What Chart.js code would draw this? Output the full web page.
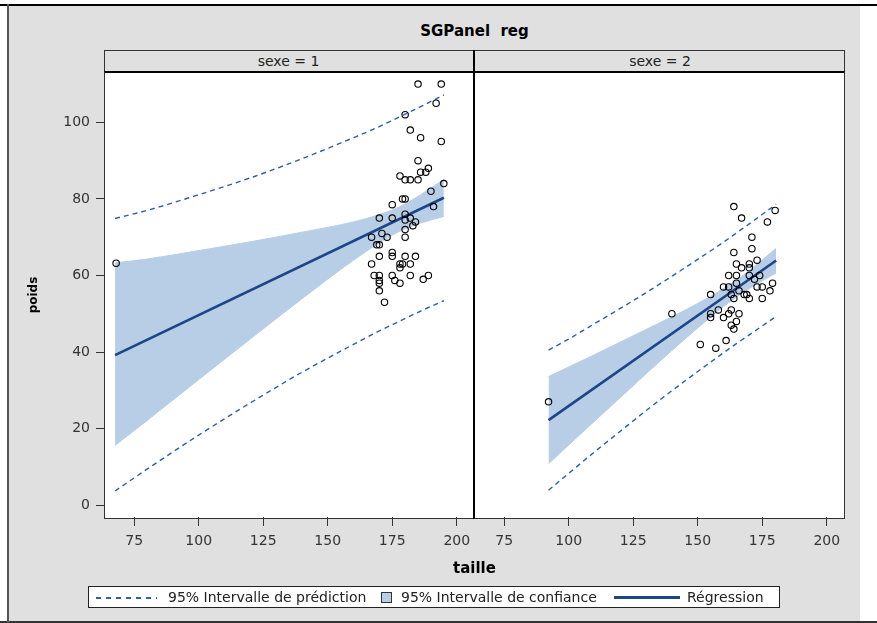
<!DOCTYPE html>
<html>
<head>
<meta charset="utf-8">
<title>SGPanel reg</title>
<script src="https://cdn.jsdelivr.net/npm/chart.js@4.4.1/dist/chart.umd.min.js"></script>
<style>
    body { margin: 0; width: 877px; height: 623px; background: #fff; position: relative; overflow: hidden; font-family: "DejaVu Sans", sans-serif; }
    .abs { position: absolute; }
    #lineTop { left: 0; top: 4px; width: 877px; height: 2px; background: #000; }
    #lineBottom { left: 0; top: 621px; width: 877px; height: 2px; background: #333; }
    #lineLeft { left: 7px; top: 4px; width: 2px; height: 619px; background: #555; }
    #bg { left: 9px; top: 6px; width: 851px; height: 615px; background: #e0e0e0; }
    #title { left: 104px; width: 741px; top: 22px; text-align: center; font-weight: bold; font-size: 15px; white-space: pre; color: #000; }
    .strip { top: 50px; height: 21px; border-top: 1px solid #333; background: #e0e0e0; font-size: 14px; line-height: 21px; text-align: center; color: #222; }
    #plotBg { left: 105px; top: 73px; width: 739px; height: 445px; background: #fff; }
    #plotFrame { left: 104px; top: 71px; width: 741px; height: 448px; box-sizing: border-box; border: 1px solid #333; border-top: 2px solid #000; }
    #stripFrame { left: 104px; top: 50px; width: 741px; height: 23px; box-sizing: border-box; border-left: 1px solid #333; border-right: 1px solid #333; }
    #divider { left: 473px; top: 50px; width: 2px; height: 469px; background: #000; }
    #xTitle { left: 104px; width: 741px; top: 559px; text-align: center; font-weight: bold; font-size: 15px; color: #000; }
    #legend { left: 88px; top: 586px; width: 692px; height: 22px; box-sizing: border-box; border: 1px solid #222; background: #fff; font-size: 14px; color: #222; }
    #legend span { position: absolute; top: 1px; line-height: 18px; white-space: nowrap; }
    .dash { position: absolute; top: 10px; height: 1.5px; background: repeating-linear-gradient(to right, #2d5ea8 0 5px, transparent 5px 10px); }
    .swatch { position: absolute; top: 5px; width: 9px; height: 9px; border: 1px solid #333; background: #b8cde6; }
    .solid { position: absolute; top: 9px; height: 3px; background: #1c4688; }
    canvas { position: absolute; }
</style>
</head>
<body>
<div class="abs" id="bg"></div>
<div class="abs" id="lineTop"></div>
<div class="abs" id="lineBottom"></div>
<div class="abs" id="lineLeft"></div>
<div class="abs" id="title">SGPanel  reg</div>
<div class="abs strip" id="strip1" style="left:104px;width:369px;"></div>
<div class="abs strip" id="strip2" style="left:475px;width:370px;"></div>
<div class="abs" id="plotBg"></div>
<canvas id="panel1" width="465" height="487" style="left:8px;top:73px;"></canvas>
<canvas id="panel2" width="368" height="487" style="left:475px;top:73px;"></canvas>
<div class="abs" id="stripFrame"></div>
<div class="abs" id="plotFrame"></div>
<div class="abs" id="divider"></div>
<div class="abs" id="xTitle">taille</div>
<div class="abs" id="legend">
    <div class="dash" style="left:7px;width:61px;"></div>
    <span style="left:79px;">95% Intervalle de prédiction</span>
    <div class="swatch" style="left:292px;"></div>
    <span style="left:312px;">95% Intervalle de confiance</span>
    <div class="solid" style="left:525px;width:66px;"></div>
    <span style="left:598px;">Régression</span>
</div>

<script>
// Axis settings
const xTicks = [75, 100, 125, 150, 175, 200];
const yTicks = [0, 20, 40, 60, 80, 100];
const xMin = 63.7, xMax = 206.3;
const yMin = -3.1, yMax = 112.9;
const panelLabels = ['sexe = 1', 'sexe = 2'];

// sexe = 1 : observations
const taille1 = [68, 185, 194, 192, 180, 182, 186, 194, 185, 189, 188, 186, 178, 180, 182, 185, 195, 190, 179, 180,
    175, 191, 170, 175, 180, 182, 180, 184, 183, 167, 171, 173, 180, 180, 169, 170, 175, 175, 170, 180,
    184, 167, 178, 179, 178, 182, 168, 170, 175, 182, 189, 187, 170, 176, 178, 170, 170, 172];
const poids1 = [63.2, 110, 110, 105, 102, 98, 96, 95, 90, 88, 87, 87, 86, 85, 85, 85, 84, 82, 80, 80,
    78.5, 78, 75, 75, 76, 75, 74.5, 74, 73, 70, 71, 70, 72, 70, 68, 68, 66, 65, 65, 65,
    65, 63, 63, 63, 62, 63, 60, 60, 60, 60, 60, 59, 58.7, 58.7, 58, 58, 56, 53];

// sexe = 1 : regression, confidence and prediction limits
const fitX1 = [67.6, 195];
const fitY1 = [39.2, 80.3];
const bandX1 = [67.6, 80, 100, 120, 140, 160, 170, 178, 186, 195];
const confLow1 = [15.6, 22.1, 32.8, 43.4, 53.9, 64.0, 68.5, 71.6, 73.7, 75.4];
const confHigh1 = [63.3, 64.3, 66.5, 68.8, 71.3, 74.0, 75.9, 78.0, 81.1, 85.1];
const predLow1 = [3.7, 9.4, 18.3, 26.7, 34.7, 42.0, 45.5, 48.1, 50.7, 53.4];
const predHigh1 = [74.9, 77.0, 81.1, 85.5, 90.5, 96.0, 98.9, 101.5, 104.1, 107.2];

// sexe = 2 : observations
const taille2 = [92.2, 164, 167, 180, 177, 171, 171, 164, 173, 165, 170, 167, 170, 162, 165, 170, 174, 172, 165, 160,
    162, 173, 175, 179, 178, 166, 163, 168, 169, 170, 175, 164, 155, 140, 155, 155, 158, 160, 162, 163,
    166, 165, 163, 164, 151, 157, 161];
const poids2 = [27, 78, 75, 77, 74, 70, 67, 66, 64, 63, 63, 62, 62, 60, 60, 60, 60, 59, 58, 57,
    57, 57, 57, 58, 56, 56, 55, 55, 55, 54, 54, 54, 55, 50, 50, 49, 51, 49, 50, 51,
    50, 48, 47, 46, 42, 41, 43];

// sexe = 2 : regression, confidence and prediction limits
const fitX2 = [92.2, 180.4];
const fitY2 = [22.2, 63.9];
const bandX2 = [92.2, 100, 110, 120, 130, 140, 150, 160, 165, 170, 180.4];
const confLow2 = [10.8, 15.7, 21.9, 28.1, 34.3, 40.4, 46.3, 51.9, 54.4, 56.6, 60.7];
const confHigh2 = [33.6, 36.1, 39.3, 42.6, 45.9, 49.2, 52.7, 56.6, 58.8, 61.3, 67.1];
const predLow2 = [3.9, 8.3, 13.9, 19.3, 24.7, 29.9, 34.9, 39.8, 42.2, 44.5, 49.3];
const predHigh2 = [40.5, 43.4, 47.4, 51.4, 55.5, 59.8, 64.2, 68.7, 71.1, 73.5, 78.6];

const fitColor = '#1c4688';
const predColor = '#2d5ea8';
const bandColor = '#b8cde6';

function toXY(xs, ys) {
    return xs.map((x, i) => ({ x: x, y: ys[i] }));
}

// keep tick labels from pushing the plot area inwards
function noMargins(scale) {
    scale._handleMargins = function() {};
}

function buildDatasets(p) {
    // first dataset is drawn on top
    return [{
        data: toXY(p.tx, p.py),
        showLine: false,
        pointRadius: 3.2,
        pointBorderWidth: 1.1,
        pointBorderColor: '#000',
        pointBackgroundColor: 'rgba(0,0,0,0)'
    }, {
        data: toXY(p.fitX, p.fitY),
        borderColor: fitColor,
        borderWidth: 2.6,
        pointRadius: 0
    }, {
        data: toXY(p.bandX, p.predHigh),
        borderColor: predColor,
        borderWidth: 1.4,
        borderDash: [5, 4],
        pointRadius: 0,
        cubicInterpolationMode: 'monotone'
    }, {
        data: toXY(p.bandX, p.predLow),
        borderColor: predColor,
        borderWidth: 1.4,
        borderDash: [5, 4],
        pointRadius: 0,
        cubicInterpolationMode: 'monotone'
    }, {
        data: toXY(p.bandX, p.confHigh),
        borderColor: bandColor,
        borderWidth: 1,
        backgroundColor: bandColor,
        fill: '+1',
        pointRadius: 0,
        cubicInterpolationMode: 'monotone'
    }, {
        data: toXY(p.bandX, p.confLow),
        borderColor: bandColor,
        borderWidth: 1,
        pointRadius: 0,
        cubicInterpolationMode: 'monotone'
    }];
}

function createPanelChart(canvasId, p, showYAxis) {
    const ctx = document.getElementById(canvasId).getContext('2d');
    const tickFont = { family: 'DejaVu Sans', size: 14 };

    return new Chart(ctx, {
        type: 'line',
        data: { datasets: buildDatasets(p) },
        options: {
            responsive: false,
            animation: false,
            layout: { padding: 0, autoPadding: false },
            plugins: {
                legend: { display: false },
                tooltip: { enabled: false }
            },
            scales: {
                x: {
                    type: 'linear',
                    min: xMin,
                    max: xMax,
                    beforeFit: noMargins,
                    afterBuildTicks: s => { s.ticks = xTicks.map(v => ({ value: v })); },
                    afterFit: s => { s.height = 43; s.paddingLeft = 0; s.paddingRight = 0; },
                    grid: { drawOnChartArea: false, tickLength: 9, color: '#333' },
                    border: { display: false },
                    ticks: { font: tickFont, color: '#333', padding: 7, maxRotation: 0, autoSkip: false }
                },
                y: {
                    type: 'linear',
                    display: showYAxis,
                    min: yMin,
                    max: yMax,
                    beforeFit: noMargins,
                    afterBuildTicks: s => { s.ticks = yTicks.map(v => ({ value: v })); },
                    afterFit: s => { s.width = showYAxis ? 97 : 0; s.paddingTop = 0; s.paddingBottom = 0; },
                    grid: { drawOnChartArea: false, tickLength: 9, color: '#333' },
                    border: { display: false },
                    ticks: { font: tickFont, color: '#333', padding: 6, autoSkip: false },
                    title: {
                        display: true,
                        text: 'poids',
                        color: '#000',
                        font: { family: 'DejaVu Sans', size: 12, weight: 'bold' },
                        padding: { top: 19, bottom: 0 }
                    }
                }
            }
        }
    });
}

document.getElementById('strip1').textContent = panelLabels[0];
document.getElementById('strip2').textContent = panelLabels[1];

createPanelChart('panel1', {
    tx: taille1, py: poids1, fitX: fitX1, fitY: fitY1, bandX: bandX1,
    confLow: confLow1, confHigh: confHigh1, predLow: predLow1, predHigh: predHigh1
}, true);

createPanelChart('panel2', {
    tx: taille2, py: poids2, fitX: fitX2, fitY: fitY2, bandX: bandX2,
    confLow: confLow2, confHigh: confHigh2, predLow: predLow2, predHigh: predHigh2
}, false);
</script>
</body>
</html>
